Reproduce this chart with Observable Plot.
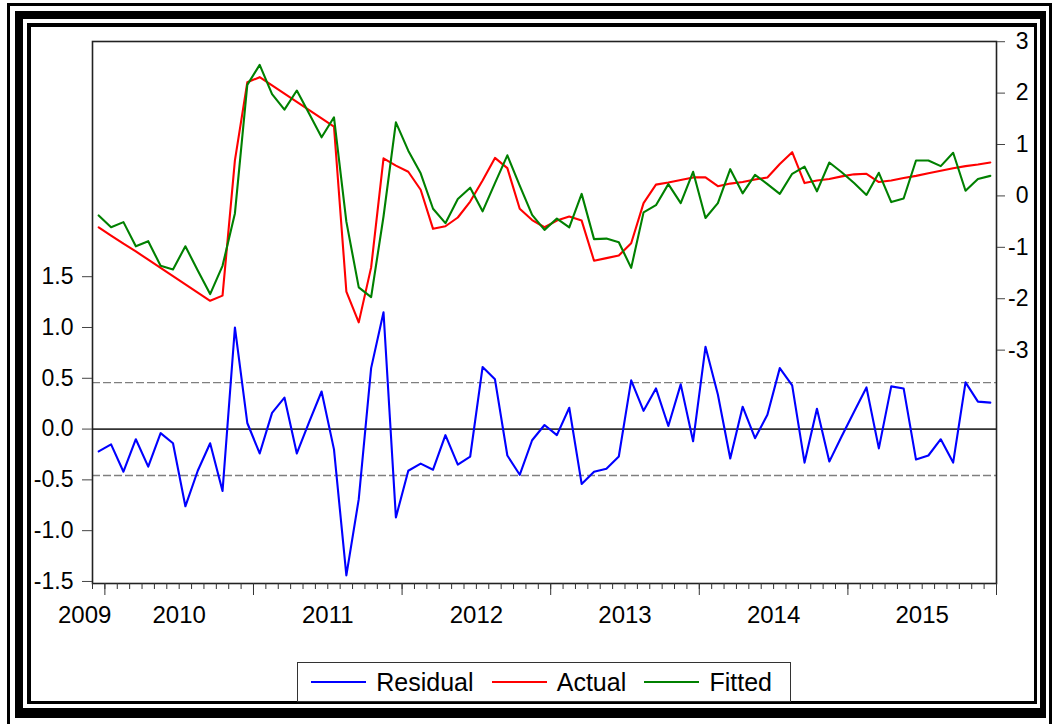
<!DOCTYPE html>
<html><head><meta charset="utf-8">
<script src="https://cdn.jsdelivr.net/npm/d3@7"></script>
<script src="https://cdn.jsdelivr.net/npm/@observablehq/plot@0.6"></script>
<style>
html,body{margin:0;padding:0;background:#fff;}
#wrap{position:relative;width:1053px;height:724px;overflow:hidden;font-family:"Liberation Sans",Arial,sans-serif;background:#fff;}
#chart{position:absolute;left:0;top:0;}
.bd{position:absolute;box-sizing:border-box;border-style:solid;border-color:#000;}
#legend{position:absolute;left:297px;top:662px;width:494px;height:40px;box-sizing:border-box;border:1.5px solid #333;background:#fff;display:flex;align-items:center;padding-left:13px;font-size:25px;color:#000;}
#legend .sw{display:inline-block;width:58px;height:0;border-top:2px solid;margin-right:10px;}
#legend .lb{margin-right:18px;}
</style>
</head><body>
<div id="wrap">
  <div id="chart"></div>
  <div class="bd" style="left:7px;top:3px;width:1045px;height:730px;border-width:3.5px;"></div>
  <div class="bd" style="left:15px;top:11px;width:1031px;height:707px;border-width:8px 6.5px 10.5px 8px;"></div>
  <div class="bd" style="left:27px;top:23px;width:1010px;height:681px;border-width:4px 3px 3px 4px;"></div>
  <div id="legend"></div>
</div>
<script>
// Monthly observations, Dec 2009 .. Dec 2015
const seriesNames = ["Residual", "Actual", "Fitted"];
const seriesColors = ["#0000ff", "#ff0000", "#008000"];
const yearLabels = ["2009", "2010", "2011", "2012", "2013", "2014", "2015"];
const leftTicks = [-1.5, -1.0, -0.5, 0.0, 0.5, 1.0, 1.5];
const rightTicks = [-3, -2, -1, 0, 1, 2, 3];
const residualSE = 0.457;

const residual = [
-0.22,-0.15,-0.42,-0.10,-0.37,-0.04,-0.14,-0.76,-0.41,-0.14,
-0.61,1.00,0.06,-0.24,0.16,0.31,-0.24,0.07,0.37,-0.20,
-1.44,-0.69,0.60,1.15,-0.87,-0.41,-0.34,-0.40,-0.06,-0.35,
-0.27,0.61,0.49,-0.26,-0.45,-0.11,0.04,-0.06,0.21,-0.54,
-0.42,-0.39,-0.27,0.48,0.18,0.40,0.03,0.44,-0.12,0.81,
0.34,-0.29,0.22,-0.09,0.14,0.60,0.43,-0.33,0.20,-0.32,
-0.07,0.17,0.41,-0.19,0.42,0.40,-0.30,-0.26,-0.10,-0.33,
0.46,0.27,0.26];

const actual = [
-0.61,-0.77,-0.93,-1.08,-1.24,-1.40,-1.56,-1.72,-1.88,-2.04,
-1.94,0.69,2.21,2.31,2.15,1.99,1.83,1.67,1.51,1.35,
-1.86,-2.46,-1.39,0.73,0.59,0.47,0.12,-0.64,-0.59,-0.42,
-0.11,0.30,0.74,0.54,-0.25,-0.47,-0.61,-0.48,-0.40,-0.48,
-1.26,-1.21,-1.16,-0.92,-0.14,0.22,0.26,0.31,0.36,0.36,
0.19,0.24,0.27,0.32,0.36,0.62,0.85,0.25,0.30,0.33,
0.38,0.42,0.43,0.27,0.30,0.35,0.39,0.44,0.49,0.54,
0.58,0.61,0.65];

const fitted = [
-0.38,-0.61,-0.51,-0.98,-0.88,-1.36,-1.43,-0.98,-1.45,-1.91,
-1.36,-0.34,2.16,2.55,1.98,1.68,2.05,1.60,1.14,1.53,
-0.50,-1.78,-1.97,-0.40,1.43,0.88,0.44,-0.25,-0.53,-0.06,
0.16,-0.30,0.25,0.79,0.20,-0.37,-0.66,-0.44,-0.61,0.04,
-0.84,-0.83,-0.90,-1.40,-0.32,-0.18,0.23,-0.14,0.47,-0.43,
-0.14,0.52,0.05,0.41,0.23,0.04,0.43,0.57,0.09,0.65,
0.46,0.25,0.02,0.45,-0.12,-0.05,0.69,0.69,0.58,0.84,
0.10,0.33,0.39];

// month index: 0 = start of Dec 2009; observation i sits mid-month
const nMonths = residual.length;
const rows = residual.map((r, i) => ({t: i + 0.5, residual: r, actual: actual[i], fitted: fitted[i]}));
const monthEdges = d3.range(0, nMonths + 1);
const yearEdges = monthEdges.filter(t => (t - 1) % 12 === 0);
const yearCenters = yearLabels.slice(1).map((y, k) => 1 + 12 * k + 6);

// right (actual/fitted) axis expressed in left-axis units
const rightToLeft = d3.scaleLinear().domain([-3, 3]).range([0.777, 3.813]);

const font = '"Liberation Sans", Arial, sans-serif';
const chart = Plot.plot({
  width: 1053, height: 640,
  marginLeft: 92, marginRight: 57, marginTop: 41, marginBottom: 57,
  x: {type: "linear", domain: [0, nMonths], axis: null, label: null},
  y: {domain: [-1.52, 3.815], axis: null, label: null},
  style: {fontFamily: font, fontSize: "23px", color: "#000", background: "transparent"},
  marks: [
    Plot.ruleY([-residualSE, residualSE], {stroke: "#7f7f7f", strokeWidth: 1.3, strokeDasharray: "8,3"}),
    Plot.ruleY([0], {stroke: "#333", strokeWidth: 1.6}),
    Plot.lineY(rows, {x: "t", y: d => rightToLeft(d.actual), stroke: seriesColors[1], strokeWidth: 2.1}),
    Plot.lineY(rows, {x: "t", y: d => rightToLeft(d.fitted), stroke: seriesColors[2], strokeWidth: 2.1}),
    Plot.lineY(rows, {x: "t", y: "residual", stroke: seriesColors[0], strokeWidth: 2.1}),
    Plot.frame({stroke: "#222", strokeWidth: 1.6}),
    Plot.axisY(leftTicks, {anchor: "left", label: null, tickSize: 10, tickPadding: 9, stroke: "#444",
      fontSize: 23, tickFormat: d => d.toFixed(1)}),
    Plot.axisY(rightTicks.map(v => rightToLeft(v)), {anchor: "right", label: null, tickSize: 8, tickPadding: 24,
      stroke: "#444", textAnchor: "end", fontSize: 23, tickFormat: (d, i) => String(rightTicks[i])}),
    Plot.axisX(monthEdges, {anchor: "bottom", label: null, tickSize: 6, stroke: "#333", tickFormat: () => ""}),
    Plot.axisX(yearEdges, {anchor: "bottom", label: null, tickSize: 12, stroke: "#333", tickFormat: () => ""}),
    Plot.axisX([0.5], {anchor: "bottom", label: null, tickSize: 0, tickPadding: 22, dx: -14, fontSize: 24,
      tickFormat: () => yearLabels[0]}),
    Plot.axisX(yearCenters, {anchor: "bottom", label: null, tickSize: 0, tickPadding: 22, fontSize: 24,
      tickFormat: (d, i) => yearLabels[i + 1]})
  ]
});
document.getElementById("chart").appendChild(chart);

const legend = document.getElementById("legend");
seriesNames.forEach((name, i) => {
  const sw = document.createElement("span");
  sw.className = "sw"; sw.style.borderTopColor = seriesColors[i];
  const lb = document.createElement("span");
  lb.className = "lb"; lb.textContent = name;
  legend.appendChild(sw); legend.appendChild(lb);
});
</script>
</body></html>
